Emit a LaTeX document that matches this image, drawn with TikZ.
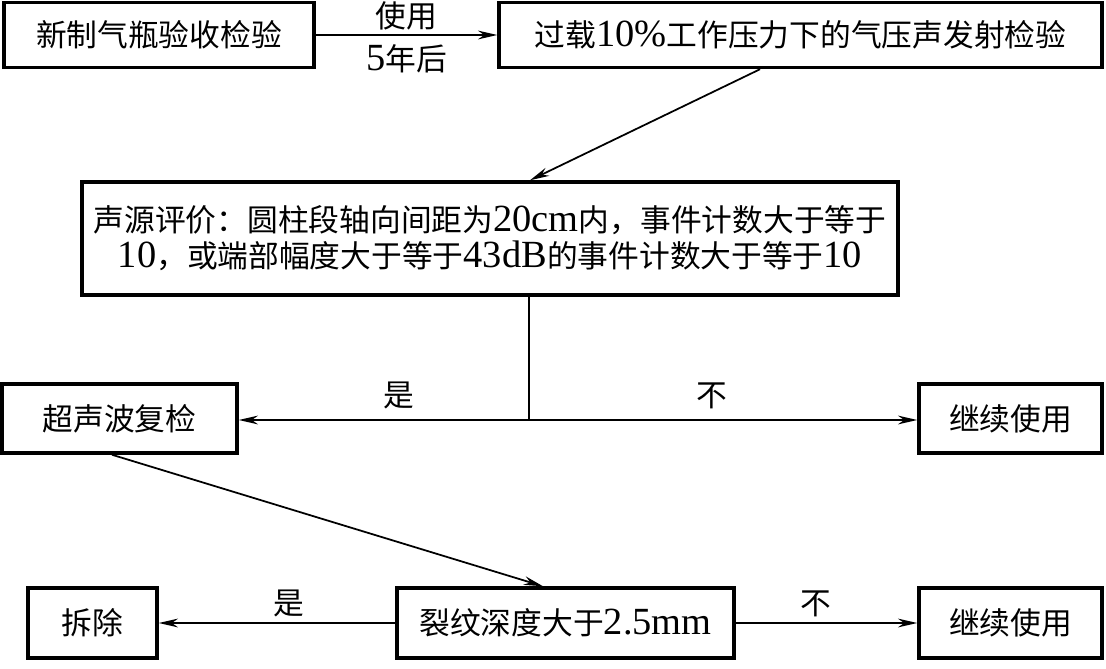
\documentclass[tikz,border=0pt]{standalone}
\usepackage{fontspec}
\setmainfont{Noto Sans CJK SC}
\newfontfamily\lat[Scale=1.25]{Liberation Serif}
\usetikzlibrary{arrows.meta, calc}
\newcommand{\flowfont}{\fontsize{17.5pt}{20.5pt}\selectfont}
\tikzset{
  box/.style={rectangle, draw=black, line width=2pt, inner sep=2pt,
              align=center},
  arr/.style={-{Stealth[length=11pt, width=5pt]}, line width=1pt},
  lbl/.style={inner sep=2pt},
}

\begin{document}
\begin{tikzpicture}[x=0.02cm, y=-0.02cm, every node/.style={font=\flowfont}]
  \useasboundingbox (0,0) rectangle (1106,669);

  % top row
  \node[box, minimum width=6.2cm, minimum height=1.3cm] (accept) at (159,35) {新制气瓶验收检验};
  \node[box, minimum width=12.06cm, minimum height=1.3cm] (aetest) at (800.5,35) {过载{\lat 10\%}工作压力下的气压声发射检验};

  % evaluation
  \node[box, minimum width=16.32cm, minimum height=2.26cm] (eval) at (490,238.5)
    {声源评价：圆柱段轴向间距为{\lat 20cm}内，事件计数大于等于\\{\lat 10}，或端部幅度大于等于{\lat 43dB}的事件计数大于等于{\lat 10}};

  % second decision row
  \node[box, minimum width=4.7cm, minimum height=1.38cm] (ultra) at (119.5,418.5) {超声波复检};
  \node[box, minimum width=3.66cm, minimum height=1.38cm] (keep1) at (1010.5,418.5) {继续使用};
  \coordinate (split) at (529,420);

  % bottom row
  \node[box, minimum width=6.74cm, minimum height=1.4cm] (crack) at (565.5,623) {裂纹深度大于{\lat 2.5mm}};
  \node[box, minimum width=2.58cm, minimum height=1.4cm] (scrap) at (92.5,623) {拆除};
  \node[box, minimum width=3.66cm, minimum height=1.4cm] (keep2) at (1010.5,623) {继续使用};

  \draw[arr] (accept) -- node[lbl, above=0pt] {使用} node[lbl, below=3pt] {{\lat 5}年后} (aetest);
  \draw[arr] ([xshift=-0.81cm]aetest.south) -- ([xshift=0.8cm]eval.north);
  \draw[line width=1pt] ([xshift=0.78cm]eval.south) -- (split);
  \draw[arr] (split) -- node[lbl, above=4pt, pos=0.45] {是} (split -| ultra.east);
  \draw[arr] (split) -- node[lbl, above=4pt, pos=0.47] {不} (split -| keep1.west);
  \draw[arr] ([xshift=-0.15cm]ultra.south) -- ([xshift=-0.45cm]crack.north);
  \draw[arr] (crack) -- node[lbl, above=1pt, pos=0.45] {是} (scrap);
  \draw[arr] (crack) -- node[lbl, above=1pt, pos=0.44] {不} (keep2);
\end{tikzpicture}
\end{document}
